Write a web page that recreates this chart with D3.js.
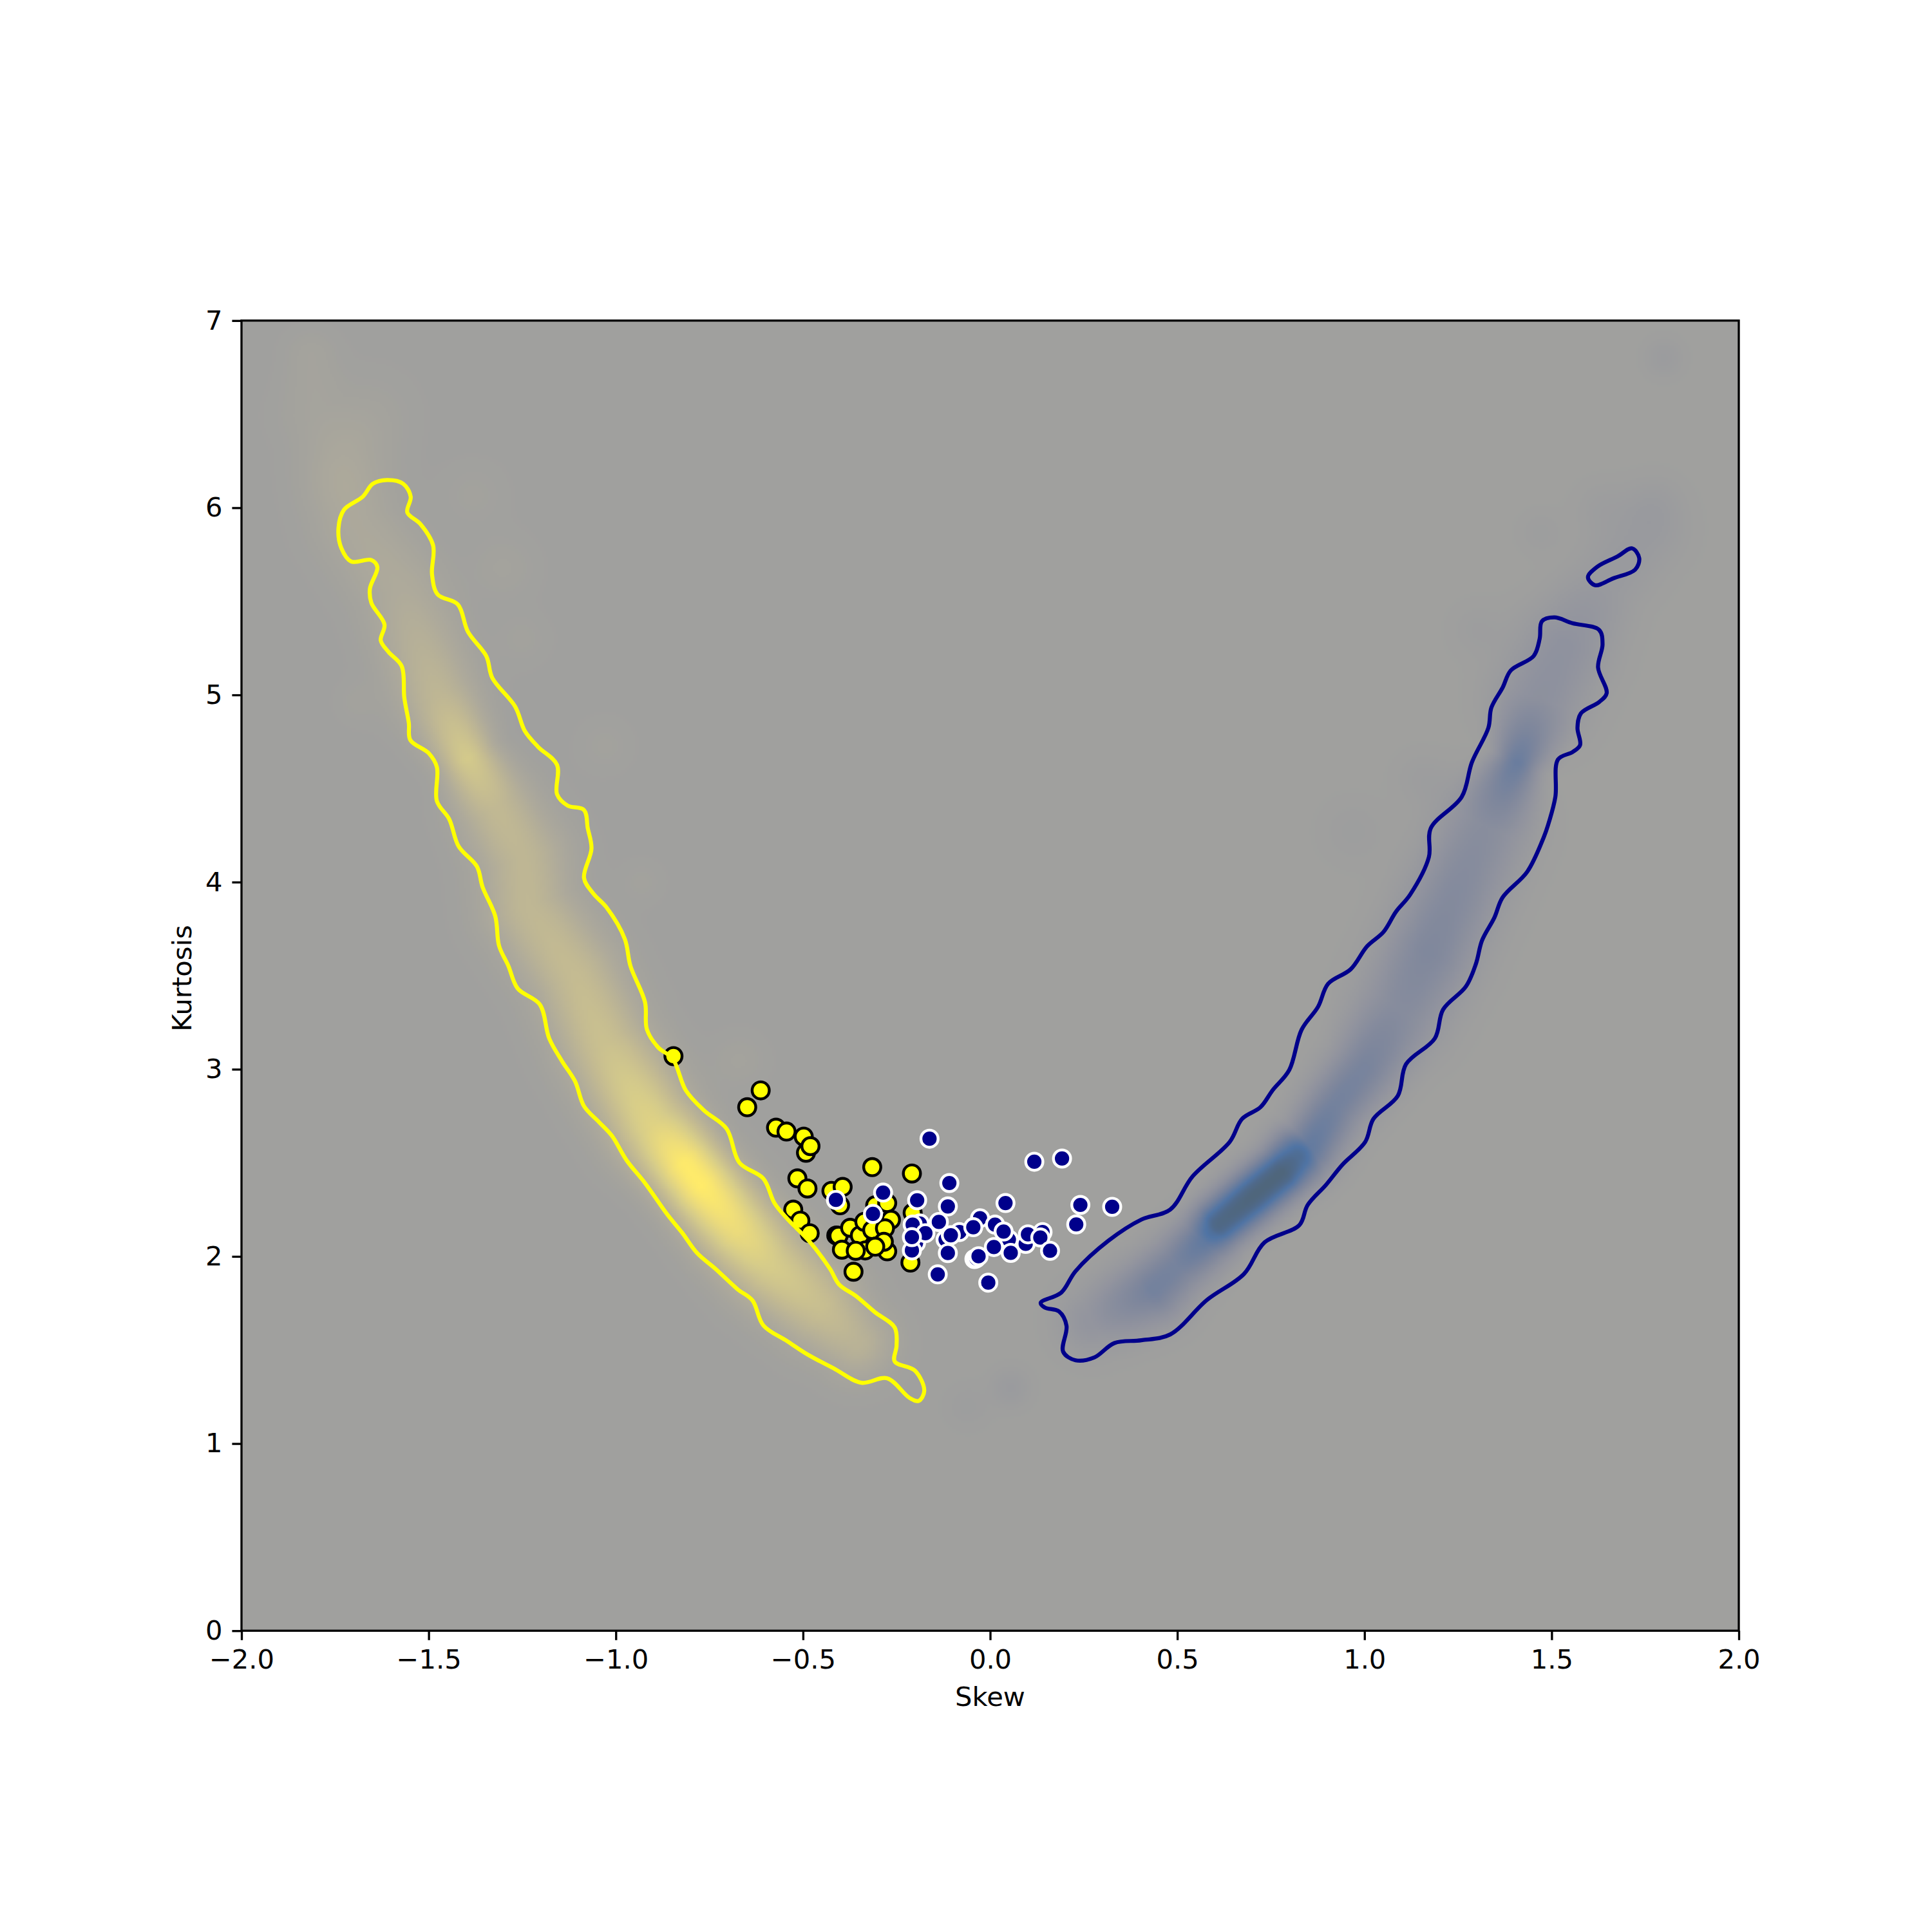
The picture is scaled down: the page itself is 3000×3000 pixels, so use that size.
<!DOCTYPE html>
<html><head><meta charset="utf-8">
<script src="https://cdn.jsdelivr.net/npm/d3@7"></script>
<style>html,body{margin:0;background:#fff}svg{display:block}text{font-family:"DejaVu Sans";fill:#000}</style>
</head><body><div id="c"></div>
<script>
const xTicks=[-2,-1.5,-1,-0.5,0,0.5,1,1.5,2];
const yTicks=[0,1,2,3,4,5,6,7];
const xLabel="Skew", yLabel="Kurtosis";
// scatter
const yellowPts=[[-0.613,2.887],[-0.649,2.797],[-0.572,2.688],[-0.544,2.667],[-0.498,2.640],[-0.492,2.554],[-0.480,2.589],[-0.515,2.417],[-0.488,2.363],[-0.315,2.477],[-0.209,2.443],[-0.424,2.350],[-0.394,2.371],[-0.401,2.273],[-0.307,2.273],[-0.275,2.285],[-0.265,2.196],[-0.526,2.250],[-0.507,2.191],[-0.482,2.124],[-0.411,2.112],[-0.405,2.110],[-0.374,2.153],[-0.348,2.112],[-0.336,2.185],[-0.315,2.141],[-0.281,2.150],[-0.396,2.036],[-0.334,2.032],[-0.275,2.027],[-0.284,2.078],[-0.359,2.030],[-0.307,2.052],[-0.365,1.918],[-0.213,1.967],[-0.207,2.233],[-0.846,3.070]];
const bluePts=[[-0.162,2.629],[0.118,2.506],[0.192,2.523],[-0.109,2.392],[-0.286,2.341],[-0.412,2.302],[-0.195,2.300],[-0.113,2.267],[0.041,2.285],[0.241,2.275],[0.326,2.265],[0.230,2.171],[-0.313,2.227],[-0.188,2.176],[-0.207,2.170],[-0.137,2.184],[-0.198,2.072],[-0.209,2.032],[-0.173,2.124],[-0.209,2.103],[-0.082,2.130],[-0.119,2.090],[-0.105,2.113],[-0.113,2.018],[-0.027,2.204],[-0.045,2.156],[0.013,2.170],[0.050,2.090],[0.036,2.133],[0.010,2.050],[0.055,2.019],[0.095,2.067],[0.140,2.130],[0.101,2.118],[0.134,2.101],[0.160,2.030],[-0.042,1.986],[-0.037,1.990],[-0.031,2.001],[-0.140,1.904],[-0.005,1.860]];
// contours
const yellowContour=[[-1.611,6.148],[-1.568,6.128],[-1.548,6.059],[-1.557,5.975],[-1.522,5.913],[-1.488,5.798],[-1.491,5.644],[-1.476,5.537],[-1.422,5.483],[-1.395,5.337],[-1.346,5.207],[-1.330,5.091],[-1.269,4.938],[-1.243,4.807],[-1.208,4.723],[-1.157,4.626],[-1.157,4.469],[-1.129,4.409],[-1.085,4.385],[-1.075,4.288],[-1.065,4.179],[-1.085,4.022],[-1.060,3.938],[-1.025,3.865],[-0.976,3.696],[-0.961,3.552],[-0.922,3.358],[-0.917,3.213],[-0.887,3.117],[-0.848,3.056],[-0.813,2.887],[-0.764,2.779],[-0.704,2.682],[-0.670,2.501],[-0.606,2.416],[-0.576,2.284],[-0.541,2.199],[-0.482,2.078],[-0.428,1.934],[-0.403,1.849],[-0.359,1.789],[-0.309,1.704],[-0.255,1.620],[-0.250,1.523],[-0.255,1.439],[-0.201,1.390],[-0.176,1.282],[-0.191,1.228],[-0.216,1.245],[-0.275,1.349],[-0.344,1.325],[-0.418,1.402],[-0.487,1.475],[-0.542,1.547],[-0.606,1.632],[-0.635,1.765],[-0.675,1.825],[-0.734,1.934],[-0.783,2.018],[-0.823,2.127],[-0.862,2.223],[-0.922,2.392],[-0.971,2.513],[-1.011,2.646],[-1.045,2.718],[-1.085,2.803],[-1.109,2.936],[-1.144,3.044],[-1.178,3.165],[-1.203,3.346],[-1.262,3.431],[-1.287,3.552],[-1.312,3.660],[-1.322,3.817],[-1.356,3.974],[-1.371,4.083],[-1.420,4.191],[-1.445,4.336],[-1.478,4.433],[-1.478,4.614],[-1.499,4.687],[-1.549,4.759],[-1.553,4.850],[-1.565,4.984],[-1.572,5.153],[-1.607,5.229],[-1.628,5.291],[-1.618,5.376],[-1.653,5.491],[-1.657,5.567],[-1.637,5.683],[-1.653,5.721],[-1.707,5.713],[-1.733,5.783],[-1.741,5.890],[-1.726,5.990],[-1.676,6.059],[-1.649,6.128]];
const blueContour=[[0.135,1.752],[0.190,1.807],[0.228,1.921],[0.316,2.084],[0.404,2.197],[0.481,2.250],[0.541,2.428],[0.640,2.612],[0.673,2.735],[0.722,2.797],[0.755,2.889],[0.799,2.996],[0.832,3.211],[0.876,3.334],[0.903,3.457],[0.963,3.534],[1.007,3.657],[1.051,3.734],[1.084,3.841],[1.122,3.933],[1.172,4.133],[1.177,4.287],[1.260,4.456],[1.287,4.640],[1.331,4.824],[1.339,4.932],[1.369,5.039],[1.391,5.131],[1.452,5.208],[1.468,5.300],[1.474,5.393],[1.507,5.414],[1.556,5.383],[1.627,5.347],[1.636,5.270],[1.624,5.147],[1.647,5.009],[1.627,4.962],[1.578,4.901],[1.569,4.824],[1.576,4.732],[1.556,4.695],[1.517,4.655],[1.510,4.456],[1.490,4.302],[1.479,4.240],[1.435,4.056],[1.369,3.918],[1.347,3.810],[1.314,3.688],[1.298,3.565],[1.271,3.442],[1.210,3.319],[1.188,3.165],[1.111,3.027],[1.089,2.858],[1.024,2.735],[1.002,2.612],[0.941,2.490],[0.897,2.382],[0.848,2.274],[0.826,2.167],[0.733,2.075],[0.678,1.906],[0.579,1.767],[0.481,1.583],[0.404,1.552],[0.332,1.537],[0.278,1.460],[0.228,1.445],[0.195,1.491],[0.204,1.629],[0.184,1.706],[0.146,1.727]];
const blueIsland=[[1.597,5.629],[1.622,5.685],[1.676,5.740],[1.715,5.783],[1.734,5.731],[1.723,5.669],[1.665,5.623],[1.616,5.586]];
// density ridges read from the shading: skew, kurtosis, density, spread
const yellowRidge=[[-1.814,6.81,.05,.05],[-1.806,6.5,.05,.07],[-1.73,6.3,.08,.08],[-1.69,5.9,.12,.08],[-1.576,5.57,.15,.08],[-1.476,5.0,.30,.07],[-1.396,4.662,.52,.05],[-1.32,4.4,.33,.07],[-1.248,4.131,.30,.08],[-1.233,3.866,.31,.08],[-1.109,3.503,.36,.08],[-1.030,3.141,.42,.08],[-0.902,2.706,.64,.075],[-0.816,2.495,.98,.065],[-0.77,2.38,1,.065],[-0.675,2.151,.78,.07],[-0.586,1.958,.55,.075],[-0.458,1.740,.40,.075],[-0.359,1.547,.26,.065]];
const blueRidge=[[0.272,1.66,.14,.06],[0.437,1.829,.42,.06],[0.50,1.95,.40,.055],[0.569,2.08,.55,.05],[0.612,2.175,.92,.045],[0.70,2.32,1,.045],[0.78,2.45,1,.045],[0.82,2.53,.8,.05],[0.851,2.573,.55,.05],[0.92,2.80,.42,.055],[1.002,3.012,.38,.06],[1.095,3.319,.26,.08],[1.172,3.626,.32,.08],[1.249,3.964,.28,.08],[1.325,4.302,.24,.08],[1.408,4.640,.5,.04],[1.468,4.978,.2,.08],[1.534,5.254,.18,.08],[1.644,5.592,.08,.07],[1.753,5.869,.07,.07]];
const faintBlobs=[[0.054,1.30,-.06,.035],[-0.06,1.2,-.03,.04],[1.47,5.87,-.03,.04],[1.63,6.0,-.03,.05],[1.78,6.03,-.03,.05],[1.8,6.8,-.05,.035],[1.3,5.35,-.03,.05],[0.97,4.27,-.03,.06],[1.15,4.56,-.03,.05],[-1.03,4.73,.03,.05],[-0.93,4.0,.03,.04],[-1.38,6.07,.03,.06],[-1.3,5.68,.04,.06],[-1.25,5.3,.03,.05],[-1.69,4.96,.03,.04],[-0.67,3.05,.04,.05],[-1.65,6.5,.03,.08],[-1.75,6.15,.04,.07]];
const densityStops=[-1,-.85,-.68,-.5,-.33,-.15,0,.15,.35,.55,.8,1];
const densityColors=["#4f667c","#4f6a8c","#4f74a5","#6a7d9e","#7f879c","#92949e","#a0a09e","#aeaa9b","#c3ba92","#d6cc8a","#eedd7a","#ffeb6a"];

const L=375,R=2700,T=497.8,B=2532.2;
const x=d3.scaleLinear().domain([-2,2]).range([L,R]);
const y=d3.scaleLinear().domain([0,7]).range([B,T]);
const color=d3.scaleLinear().domain(densityStops).range(densityColors).interpolate(d3.interpolateRgb).clamp(true);

function ridgeVal(r,px,py){
  let best=0;
  for(let i=0;i<r.length-1;i++){
    const a=r[i],b=r[i+1];
    const ax=a[0],ay=a[1]*.5,bx=b[0],by=b[1]*.5;
    const dx=bx-ax,dy=by-ay;
    let t=((px-ax)*dx+(py-ay)*dy)/(dx*dx+dy*dy);
    t=t<0?0:t>1?1:t;
    const ex=px-ax-t*dx,ey=py-ay-t*dy,d2=ex*ex+ey*ey;
    const amp=a[2]+t*(b[2]-a[2]),w=a[3]+t*(b[3]-a[3]);
    const v=amp*Math.exp(-d2/(2*w*w));
    if(v>best)best=v;
  }
  return best;
}
const step=3,W=Math.round((R-L)/step),H=Math.round((B-T)/step);
const cv=document.createElement("canvas");cv.width=W;cv.height=H;
const ctx=cv.getContext("2d"),im=ctx.createImageData(W,H);
const lut=d3.range(0,1001).map(i=>d3.rgb(color(-1+i/500)));
for(let j=0;j<H;j++){
  const dy=y.invert(T+(j+.5)*step);
  for(let i=0;i<W;i++){
    const dx=x.invert(L+(i+.5)*step);
    let v=ridgeVal(yellowRidge,dx,dy*.5)-ridgeVal(blueRidge,dx,dy*.5);
    for(const b of faintBlobs){const ex=dx-b[0],ey=(dy-b[1])*.5;v+=b[2]*Math.exp(-(ex*ex+ey*ey)/(2*b[3]*b[3]));}
    const c=lut[Math.max(0,Math.min(1000,Math.round((v+1)*500)))],k=(j*W+i)*4;
    im.data[k]=c.r;im.data[k+1]=c.g;im.data[k+2]=c.b;im.data[k+3]=255;
  }
}
ctx.putImageData(im,0,0);

const svg=d3.select("#c").append("svg").attr("width",3000).attr("height",3000);
svg.append("image").attr("href",cv.toDataURL()).attr("x",L).attr("y",T).attr("width",R-L).attr("height",B-T).attr("preserveAspectRatio","none");

const pts=(g,data,fill,edge)=>g.selectAll("circle").data(data).join("circle").attr("cx",d=>x(d[0])).attr("cy",d=>y(d[1])).attr("r",13.3).attr("fill",fill).attr("stroke",edge).attr("stroke-width",4.4);
pts(svg.append("g"),yellowPts,"#ffff00","#000");
const line=d3.line().x(d=>x(d[0])).y(d=>y(d[1])).curve(d3.curveCatmullRomClosed.alpha(.5));
const cg=svg.append("g").attr("fill","none").attr("stroke-width",6.25);
cg.append("path").attr("d",line(yellowContour)).attr("stroke","#ffff00");
cg.append("path").attr("d",line(blueContour)).attr("stroke","#00008b");
cg.append("path").attr("d",line(blueIsland)).attr("stroke","#00008b");
pts(svg.append("g"),bluePts,"#00008b","#fff");

svg.append("rect").attr("x",L).attr("y",T).attr("width",R-L).attr("height",B-T).attr("fill","none").attr("stroke","#000").attr("stroke-width",3.33);
const fmtX=d=>d3.format(".1f")(d).replace("-","\u2212");
const ax=svg.append("g").attr("transform",`translate(0,${B})`).call(d3.axisBottom(x).tickValues(xTicks).tickSize(14.6).tickSizeOuter(0).tickPadding(15).tickFormat(fmtX));
const ay=svg.append("g").attr("transform",`translate(${L},0)`).call(d3.axisLeft(y).tickValues(yTicks).tickSize(14.6).tickSizeOuter(0).tickPadding(15).tickFormat(d3.format("d")));
[ax,ay].forEach(g=>{g.select(".domain").remove();g.selectAll("line").attr("stroke","#000").attr("stroke-width",3.33);g.selectAll("text").style("font-size","41.67px").style("font-family","DejaVu Sans").attr("fill","#000");});
svg.append("text").attr("x",(L+R)/2).attr("y",2649).attr("text-anchor","middle").style("font-size","41.67px").text(xLabel);
svg.append("text").attr("transform",`translate(297,${(T+B)/2+4}) rotate(-90)`).attr("text-anchor","middle").style("font-size","41.67px").text(yLabel);
</script></body></html>
